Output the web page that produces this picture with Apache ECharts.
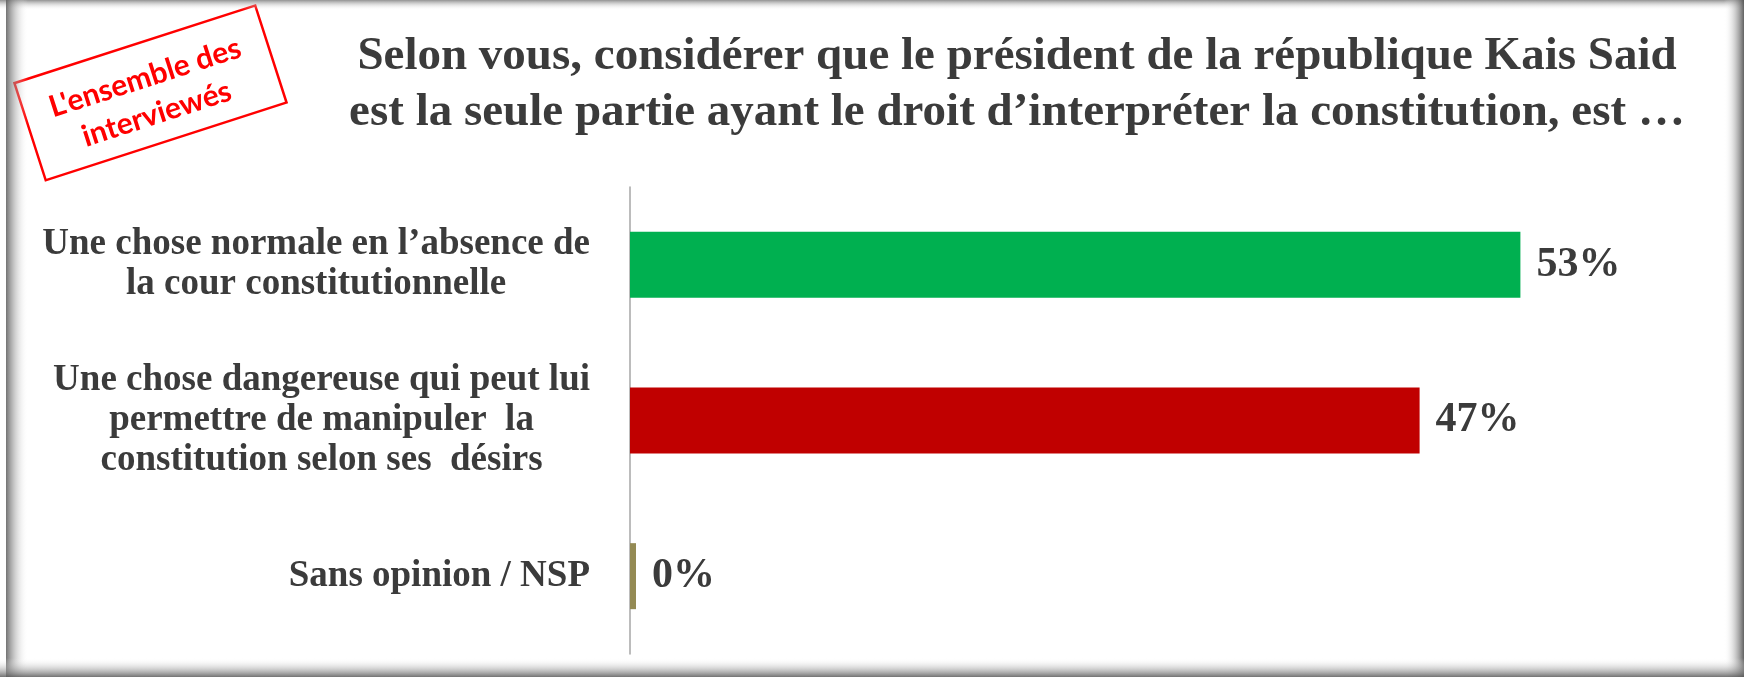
<!DOCTYPE html>
<html>
<head>
<meta charset="utf-8">
<script src="https://cdn.jsdelivr.net/npm/echarts@6/dist/echarts.min.js"></script>
<style>
  html, body { margin: 0; padding: 0; background: #fff; }
  #chart-container { width: 1744px; height: 677px; }
</style>
</head>
<body>
<div id="chart-container"></div>
<script>
var titleText = 'Selon vous, considérer que le président de la république Kais Said\nest la seule partie ayant le droit d\u2019interpréter la constitution, est \u2026';
var stampText = 'L\'ensemble des\ninterviewés';

var categories = [
    'Une chose normale en l\u2019absence de\nla cour constitutionnelle',
    'Une chose dangereuse qui peut lui\npermettre de manipuler  la\nconstitution selon ses  désirs',
    'Sans opinion / NSP'
];
var values = [53, 47, 0];
var barColors = ['#00B050', '#C00000', '#948A54'];

var textColor = '#3b3b3b';
var serif = '"Liberation Serif", "Times New Roman", serif';

function edgeShade(x, y, w, h, gx, gy, gx2, gy2, dark) {
    return {
        type: 'rect',
        silent: true,
        z: 100,
        shape: { x: x, y: y, width: w, height: h },
        style: {
            fill: {
                type: 'linear', x: gx, y: gy, x2: gx2, y2: gy2,
                colorStops: [
                    { offset: 0, color: dark },
                    { offset: 1, color: 'rgba(255,255,255,0)' }
                ]
            }
        }
    };
}

var chart = echarts.init(document.getElementById('chart-container'));

var option = {
    backgroundColor: '#ffffff',
    animation: false,
    title: {
        text: titleText,
        left: 1012,
        top: 24,
        textAlign: 'center',
        textStyle: {
            fontFamily: serif,
            fontWeight: 'bold',
            fontSize: 47,
            lineHeight: 56,
            color: textColor
        }
    },
    grid: {
        left: 630,
        right: 106,
        top: 187,
        bottom: 23,
        containLabel: false
    },
    xAxis: {
        type: 'value',
        min: 0,
        max: 60,
        show: false,
        splitLine: { show: false }
    },
    yAxis: {
        type: 'category',
        inverse: true,
        data: categories,
        axisLine: { show: true, lineStyle: { color: '#a6a6a6', width: 1.5 } },
        axisTick: { show: false },
        axisLabel: {
            margin: 40,
            align: 'right',
            formatter: function (v) {
                return v.split('\n').map(function (l) { return '{c|' + l + '}'; }).join('\n');
            },
            rich: {
                c: {
                    align: 'center',
                    fontFamily: serif,
                    fontWeight: 'bold',
                    fontSize: 37,
                    lineHeight: 40,
                    color: textColor
                }
            }
        }
    },
    series: [{
        type: 'bar',
        data: values.map(function (v, i) {
            return { value: v, itemStyle: { color: barColors[i] } };
        }),
        barWidth: 66,
        barMinHeight: 6,
        label: {
            show: true,
            position: 'right',
            distance: 16,
            formatter: '{c}%',
            fontFamily: serif,
            fontWeight: 'bold',
            fontSize: 42,
            color: textColor
        }
    }],
    graphic: [
        // red stamp, top left
        {
            type: 'group',
            x: 150,
            y: 93,
            rotation: 0.312,
            children: [
                {
                    type: 'rect',
                    shape: { x: -126, y: -51, width: 253, height: 102 },
                    style: { fill: '#ffffff', stroke: '#ff0000', lineWidth: 2.5 }
                },
                {
                    type: 'text',
                    x: 0,
                    y: 3,
                    style: {
                        text: stampText,
                        textAlign: 'center',
                        textVerticalAlign: 'middle',
                        fontFamily: 'Lato, "Open Sans", sans-serif',
                        fontWeight: 'bold',
                        fontSize: 30,
                        lineHeight: 38,
                        fill: '#ff0000'
                    }
                }
            ]
        },
        // shaded frame edges
        edgeShade(0, 0, 1744, 10, 0, 0, 0, 1, 'rgba(110,110,110,0.75)'),
        edgeShade(6, 0, 22, 677, 0, 0, 1, 0, 'rgba(90,90,90,0.85)'),
        edgeShade(1724, 0, 20, 677, 1, 0, 0, 0, 'rgba(80,80,80,0.9)'),
        edgeShade(0, 658, 1744, 19, 0, 1, 0, 0, 'rgba(90,90,90,0.85)')
    ]
};

chart.setOption(option);
</script>
</body>
</html>
